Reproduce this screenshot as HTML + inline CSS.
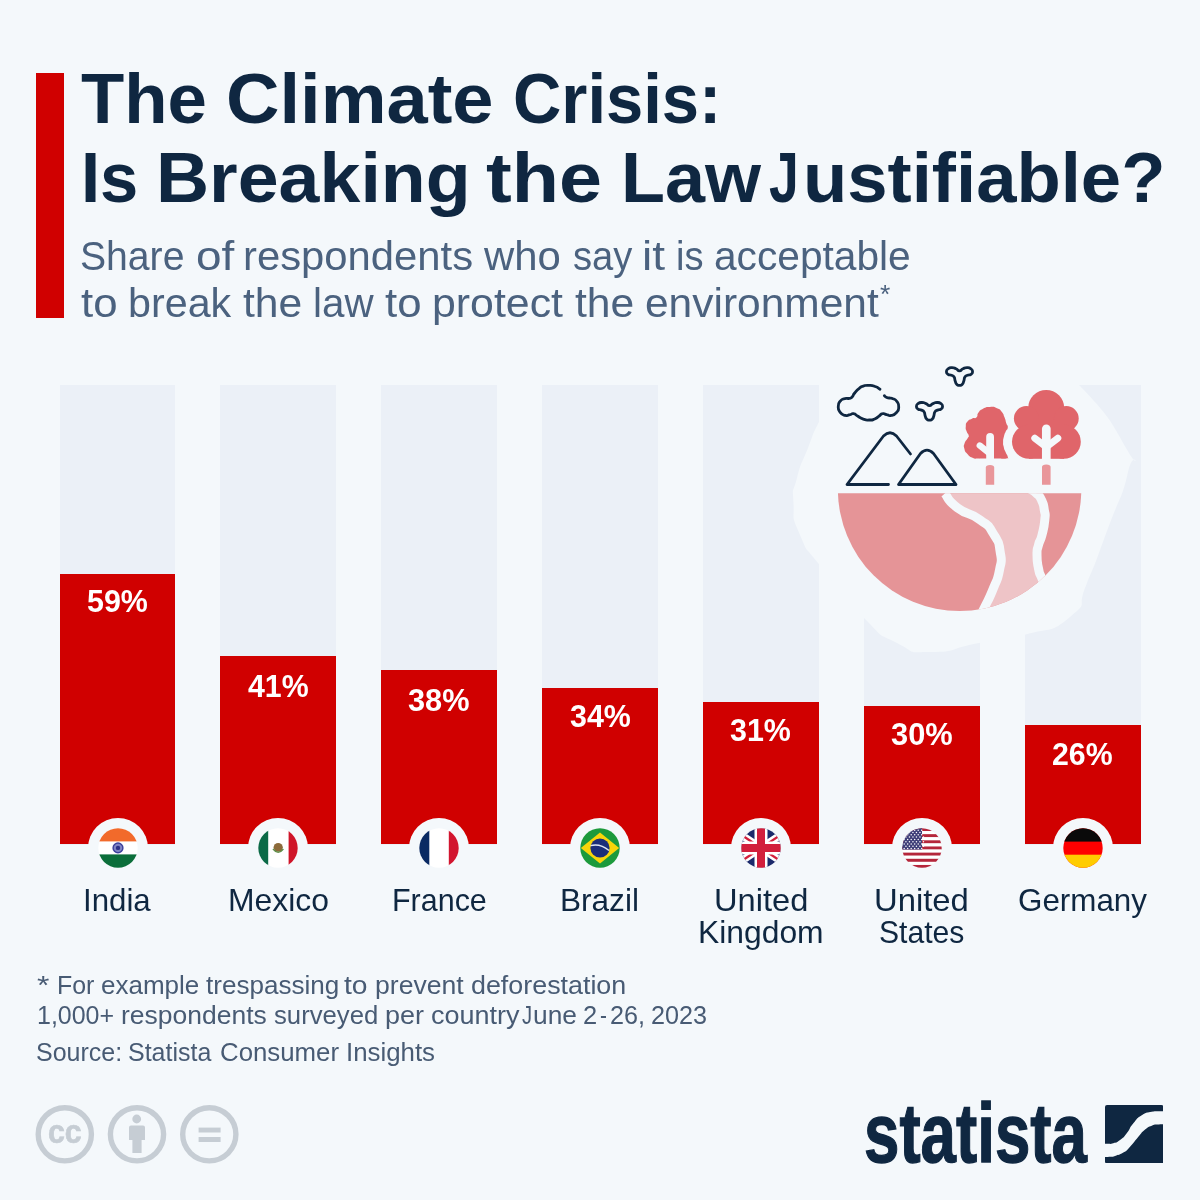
<!DOCTYPE html><html lang="en"><head><meta charset="utf-8"><title>The Climate Crisis: Is Breaking the Law Justifiable?</title><style>
html,body{margin:0;padding:0;background:#f4f8fb;overflow:hidden;}
#page{position:relative;width:1200px;height:1200px;overflow:hidden;background:#f4f8fb;font-family:'Liberation Sans',sans-serif;}
.t{position:absolute;white-space:pre;line-height:1;transform-origin:0 0;margin:0;font-weight:normal;}
.accent{position:absolute;left:36px;top:73px;width:28px;height:244.5px;background:#d00000;}
.title .t{color:#0f2741;font-weight:bold;}
.sub .t{color:#4b627f;}
.col{position:absolute;top:385px;width:115.9px;height:459.5px;background:#ebf0f7;}
.bar{position:absolute;width:115.9px;background:#d00000;}
.pct .t{color:#fff;font-weight:bold;}
.halo{position:absolute;width:60px;height:60px;border-radius:50%;background:#f4f8fb;top:818px;}
.flag{position:absolute;top:828.2px;}
.lab .t{color:#0f2741;}
.foot .t{color:#485b74;}
.foot .t.logo{color:#0f2741;}
.foot .t.cc{color:#c6cdd4;}
.illus{position:absolute;left:0;top:0;}
.ccs{position:absolute;left:0;top:1090px;}
.cc{color:#c6cdd4;font-weight:bold !important;-webkit-text-stroke:0.7px #c6cdd4;}
.logo{color:#0f2741;font-weight:bold !important;-webkit-text-stroke:1.3px #0f2741;}
.mark{position:absolute;left:1105px;top:1105px;}
</style></head><body><div id="page">
<div class="accent"></div>
<header class="title"><div class="ln"><span class="t h1" style="left:80.80px;top:63.30px;font-size:71.3px;transform:scaleX(0.9934)">The </span><span class="t h1" style="left:225.97px;top:63.30px;font-size:71.3px;transform:scaleX(1.0389)">Climate </span><span class="t h1" style="left:512.94px;top:63.30px;font-size:71.3px;transform:scaleX(0.9392)">Crisis:</span></div><div class="ln"><span class="t h1" style="left:81.01px;top:142.40px;font-size:71.3px;transform:scaleX(0.9637)">Is </span><span class="t h1" style="left:156.42px;top:142.40px;font-size:71.3px;transform:scaleX(1.0313)">Breaking </span><span class="t h1" style="left:485.70px;top:142.40px;font-size:71.3px;transform:scaleX(1.0840)">the </span><span class="t h1" style="left:620.70px;top:142.40px;font-size:71.3px;transform:scaleX(1.0094)">Law </span><span class="t h1" style="left:769.42px;top:142.40px;font-size:71.3px;transform:scaleX(0.7500)">J</span><span class="t h1" style="left:802.75px;top:142.40px;font-size:71.3px;transform:scaleX(1.0166)">ustifiable?</span></div></header>
<div class="sub"><div class="ln"><span class="t " style="left:80.48px;top:235.70px;font-size:40.1px;transform:scaleX(0.9762)">Share </span><span class="t " style="left:195.73px;top:235.70px;font-size:40.1px;transform:scaleX(1.1456)">of </span><span class="t " style="left:242.70px;top:235.70px;font-size:40.1px;transform:scaleX(1.0430)">respondents </span><span class="t " style="left:483.95px;top:235.70px;font-size:40.1px;transform:scaleX(1.0447)">who </span><span class="t " style="left:572.67px;top:235.70px;font-size:40.1px;transform:scaleX(0.9519)">say </span><span class="t " style="left:641.85px;top:235.70px;font-size:40.1px;transform:scaleX(1.1479)">it </span><span class="t " style="left:676.38px;top:235.70px;font-size:40.1px;transform:scaleX(0.9512)">is </span><span class="t " style="left:714.39px;top:235.70px;font-size:40.1px;transform:scaleX(1.0144)">acceptable</span></div><div class="ln"><span class="t " style="left:80.80px;top:283.00px;font-size:40.1px;transform:scaleX(1.0914)">to </span><span class="t " style="left:128.30px;top:283.00px;font-size:40.1px;transform:scaleX(1.0296)">break </span><span class="t " style="left:242.77px;top:283.00px;font-size:40.1px;transform:scaleX(1.0623)">the </span><span class="t " style="left:312.76px;top:283.00px;font-size:40.1px;transform:scaleX(1.0060)">law </span><span class="t " style="left:384.92px;top:283.00px;font-size:40.1px;transform:scaleX(1.0914)">to </span><span class="t " style="left:432.32px;top:283.00px;font-size:40.1px;transform:scaleX(1.0688)">protect </span><span class="t " style="left:574.76px;top:283.00px;font-size:40.1px;transform:scaleX(1.0623)">the </span><span class="t " style="left:644.71px;top:283.00px;font-size:40.1px;transform:scaleX(1.0597)">environment</span></div><div class="ln"><span class="t " style="left:880.08px;top:282.20px;font-size:25px;transform:scaleX(1.0556)">*</span></div></div>
<div class="cols"><div class="col" style="left:59.6px"></div><div class="col" style="left:220.2px"></div><div class="col" style="left:381.1px"></div><div class="col" style="left:542px"></div><div class="col" style="left:703px"></div><div class="col" style="left:863.8px"></div><div class="col" style="left:1025px"></div></div>
<svg class="illus" width="1200" height="1200" viewBox="0 0 1200 1200">
<path d="M840.0,385.0 C860.0,363.7 840.0,369.0 880.0,356.0 C920.0,343.0 906.7,345.3 960.0,346.0 C1013.3,346.7 1000.0,344.7 1040.0,358.0 C1080.0,371.3 1051.3,356.0 1080.0,386.0 C1108.7,416.0 1110.0,419.3 1126.0,448.0 C1142.0,476.7 1134.3,444.3 1128.0,472.0 C1121.7,499.7 1120.7,494.0 1107.0,531.0 C1093.3,568.0 1099.3,554.3 1087.0,583.0 C1074.7,611.7 1091.0,599.7 1070.0,617.0 C1049.0,634.3 1054.3,626.3 1024.0,635.0 C993.7,643.7 1010.0,637.3 979.0,643.0 C948.0,648.7 958.3,652.0 931.0,652.0 C903.7,652.0 919.7,654.7 897.0,643.0 C874.3,631.3 888.0,642.0 863.0,617.0 C838.0,592.0 843.0,595.3 822.0,568.0 C801.0,540.7 809.5,556.7 800.0,535.0 C790.5,513.3 794.5,522.0 793.5,503.0 C792.5,484.0 792.2,496.3 797.0,478.0 C801.8,459.7 800.3,467.3 808.0,448.0 C815.7,428.7 809.3,441.0 820.0,420.0 C830.7,399.0 820.0,406.3 840.0,385.0Z" fill="#f4f8fb"/>
<defs><clipPath id="half"><rect x="800" y="493.3" width="320" height="140"/></clipPath><clipPath id="disc"><circle cx="959.6" cy="489.3" r="121.7"/></clipPath></defs>
<g clip-path="url(#half)"><circle cx="959.6" cy="489.3" r="121.7" fill="#e59497"/>
<g clip-path="url(#disc)"><path d="M944.8,493.5 C949.0,498.2 945.8,499.0 957.5,507.8 C969.2,516.5 968.0,511.0 980.0,519.8 C992.0,528.5 986.8,523.2 993.5,534.0 C1000.2,544.8 998.2,540.0 1000.2,552.0 C1002.2,564.0 1001.8,558.0 999.5,570.0 C997.2,582.0 998.5,575.5 993.5,588.0 C988.5,600.5 989.0,598.2 984.5,607.5 C980.0,616.8 981.5,613.2 980.0,616.0 L1046.0,588.0 C1044.5,584.5 1044.0,584.0 1041.5,577.5 C1039.0,571.0 1040.0,576.0 1038.5,568.5 C1037.0,561.0 1037.0,562.8 1037.0,555.0 C1037.0,547.2 1036.8,551.7 1038.5,545.0 C1040.2,538.3 1039.9,543.3 1042.0,535.0 C1044.1,526.7 1044.0,528.3 1044.8,520.0 C1045.6,511.7 1045.4,516.7 1044.3,510.0 C1043.2,503.3 1044.1,505.5 1041.5,500.0 C1038.9,494.5 1040.3,497.2 1036.5,493.5 C1032.7,489.8 1032.2,490.5 1030.0,489.0Z" fill="#eec4c7"/>
<path d="M944.8,493.5 C949.0,498.2 945.8,499.0 957.5,507.8 C969.2,516.5 968.0,511.0 980.0,519.8 C992.0,528.5 986.8,523.2 993.5,534.0 C1000.2,544.8 998.2,540.0 1000.2,552.0 C1002.2,564.0 1001.8,558.0 999.5,570.0 C997.2,582.0 998.5,575.5 993.5,588.0 C988.5,600.5 989.0,598.2 984.5,607.5 C980.0,616.8 981.5,613.2 980.0,616.0" fill="none" stroke="#f4f8fb" stroke-width="9"/><path d="M1030.0,489.0 C1032.2,490.5 1032.7,489.8 1036.5,493.5 C1040.3,497.2 1038.9,494.5 1041.5,500.0 C1044.1,505.5 1043.2,503.3 1044.3,510.0 C1045.4,516.7 1045.6,511.7 1044.8,520.0 C1044.0,528.3 1044.1,526.7 1042.0,535.0 C1039.9,543.3 1040.2,538.3 1038.5,545.0 C1036.8,551.7 1037.0,547.2 1037.0,555.0 C1037.0,562.8 1037.0,561.0 1038.5,568.5 C1040.0,576.0 1039.0,571.0 1041.5,577.5 C1044.0,584.0 1044.5,584.5 1046.0,588.0" fill="none" stroke="#f4f8fb" stroke-width="9"/></g></g>
<g fill="none" stroke="#0f2741" stroke-width="2.8" stroke-linecap="round" stroke-linejoin="round">
<path d="M880.0,389.3 C878.4,388.4 879.1,387.8 875.3,386.5 C871.6,385.1 872.7,385.4 868.7,385.3 C864.7,385.2 866.4,385.2 863.3,386.2 C860.2,387.2 862.2,386.1 859.3,388.3 C856.4,390.6 857.0,390.2 854.7,393.0 C852.3,395.8 854.1,394.9 852.3,396.7 C850.6,398.4 851.9,397.7 849.3,398.3 C846.8,399.0 847.6,397.8 844.7,398.7 C841.7,399.5 842.6,398.3 840.5,400.9 C838.4,403.4 838.4,402.5 838.3,406.3 C838.2,410.2 837.9,409.3 840.2,412.3 C842.5,415.3 842.1,414.6 845.3,415.3 C848.6,416.1 847.2,415.2 850.0,414.7 C852.8,414.1 851.0,413.1 853.7,413.7 C856.3,414.2 854.8,414.5 858.0,416.3 C861.2,418.2 859.6,417.9 863.3,419.1 C867.1,420.4 865.6,420.0 869.3,420.0 C873.1,420.0 871.6,420.2 874.7,419.0 C877.8,417.8 876.0,418.1 878.7,416.3 C881.3,414.6 880.0,414.2 882.7,413.7 C885.3,413.1 883.8,414.1 886.7,414.7 C889.6,415.2 888.0,416.1 891.3,415.3 C894.6,414.6 894.1,415.2 896.5,412.5 C899.0,409.7 898.6,410.6 898.7,407.0 C898.8,403.4 898.8,404.3 896.9,401.5 C895.0,398.8 895.5,399.8 893.0,398.7 C890.5,397.5 891.6,398.4 889.3,398.0 C887.1,397.6 888.0,398.1 886.3,397.3 C884.7,396.6 885.0,396.2 884.3,395.7"/>
<path d="M929.5,405.6 C927.2,405.6 928.5,404.6 926.0,403.6 C923.5,402.6 924.7,402.5 922.0,402.5 C919.3,402.5 919.8,402.3 918.0,403.6 C916.2,404.9 916.5,404.7 916.5,406.5 C916.5,408.3 916.3,407.9 918.0,409.1 C919.7,410.3 919.5,409.2 921.5,410.1 C923.5,411.0 922.9,410.0 924.1,411.9 C925.3,413.8 924.3,413.5 925.2,415.9 C926.1,418.3 925.3,417.7 926.7,419.1 C928.1,420.5 927.6,420.1 929.5,420.1 C931.4,420.1 930.9,420.5 932.3,419.1 C933.7,417.7 932.9,418.3 933.8,415.9 C934.7,413.5 933.7,413.8 934.9,411.9 C936.1,410.0 935.5,411.0 937.5,410.1 C939.5,409.2 939.3,410.3 941.0,409.1 C942.7,407.9 942.5,408.3 942.5,406.5 C942.5,404.7 942.8,404.9 941.0,403.6 C939.2,402.3 939.7,402.5 937.0,402.5 C934.3,402.5 935.5,402.6 933.0,403.6 C930.5,404.6 931.8,405.6 929.5,405.6Z"/>
<path d="M959.5,370.8 C957.2,370.8 958.5,369.8 956.0,368.8 C953.5,367.8 954.7,367.7 952.0,367.7 C949.3,367.7 949.8,367.5 948.0,368.8 C946.2,370.1 946.5,369.9 946.5,371.7 C946.5,373.5 946.3,373.1 948.0,374.3 C949.7,375.5 949.5,374.4 951.5,375.3 C953.5,376.2 952.9,375.2 954.1,377.1 C955.3,379.0 954.3,378.7 955.2,381.1 C956.1,383.5 955.3,382.9 956.7,384.3 C958.1,385.7 957.6,385.3 959.5,385.3 C961.4,385.3 960.9,385.7 962.3,384.3 C963.7,382.9 962.9,383.5 963.8,381.1 C964.7,378.7 963.7,379.0 964.9,377.1 C966.1,375.2 965.5,376.2 967.5,375.3 C969.5,374.4 969.3,375.5 971.0,374.3 C972.7,373.1 972.5,373.5 972.5,371.7 C972.5,369.9 972.8,370.1 971.0,368.8 C969.2,367.5 969.7,367.7 967.0,367.7 C964.3,367.7 965.5,367.8 963.0,368.8 C960.5,369.8 961.8,370.8 959.5,370.8Z"/>
<path d="M888.5,484.5 L847,484.5 L883.5,436 Q890,429.6 896.5,436 L910.5,454"/>
<path d="M920.5,453.5 Q927,446.9 933.5,453.5 L956,484.5 L898.5,484.5 Z"/>
</g>
<g fill="#e0656a">
<path d="M990.0,407.0 C994.7,406.8 993.1,406.6 997.0,408.2 C1000.9,409.7 999.1,408.6 1001.7,411.7 C1004.2,414.8 1003.0,413.6 1004.6,417.5 C1006.1,421.4 1005.3,420.0 1006.3,423.3 C1007.4,426.6 1008.0,424.7 1007.8,427.4 C1007.6,430.1 1007.0,428.6 1005.7,431.5 C1004.5,434.4 1004.9,432.7 1004.0,436.2 C1003.1,439.7 1003.2,438.5 1003.1,442.0 C1003.0,445.5 1003.0,443.6 1003.7,446.7 C1004.4,449.8 1003.8,447.9 1005.2,451.3 C1006.5,454.7 1007.4,454.5 1007.8,456.9 C1008.2,459.3 1010.3,457.9 1006.3,458.5 C1002.3,459.1 1003.6,458.6 995.8,458.6 C988.1,458.7 988.8,458.6 983.0,458.6 C977.2,458.6 981.8,458.9 978.3,458.6 C974.8,458.3 976.2,459.4 972.5,457.7 C968.8,456.1 970.0,456.8 967.2,453.7 C964.5,450.6 965.2,451.9 964.3,448.4 C963.5,444.9 963.6,446.5 964.6,443.2 C965.7,439.9 966.2,441.0 967.5,438.5 C968.9,436.0 969.0,437.9 968.7,435.6 C968.4,433.2 967.6,434.6 966.7,431.5 C965.7,428.4 965.5,429.6 965.8,426.2 C966.1,422.9 965.5,424.1 967.5,421.6 C969.6,419.1 968.9,420.1 971.9,418.7 C974.9,417.2 974.4,419.2 976.6,417.2 C978.7,415.3 976.2,415.7 978.3,412.8 C980.5,410.0 979.1,410.7 983.0,408.7 C986.9,406.8 985.3,407.2 990.0,407.0Z"/>
</g>
<g fill="#f4f8fb" stroke="#f4f8fb" stroke-width="8"><circle cx="1046.2" cy="408" r="18"/><circle cx="1026.3" cy="418.5" r="12.4"/><circle cx="1066.3" cy="418.5" r="12.4"/><circle cx="1029" cy="441.8" r="17"/><circle cx="1063.8" cy="441.8" r="17"/><rect x="1029" y="420" width="35" height="38.8"/></g>
<g fill="#e0656a"><circle cx="1046.2" cy="408" r="18"/><circle cx="1026.3" cy="418.5" r="12.4"/><circle cx="1066.3" cy="418.5" r="12.4"/><circle cx="1029" cy="441.8" r="17"/><circle cx="1063.8" cy="441.8" r="17"/><rect x="1029" y="420" width="35" height="38.8"/></g>
<g fill="none" stroke="#f4f8fb" stroke-linecap="round">
<path d="M990.1,437 L990.1,462" stroke-width="7.8"/><path d="M979.8,445.6 L988.5,452.5" stroke-width="6.4"/>
<path d="M1046.3,428.8 L1046.3,462" stroke-width="8.7"/><path d="M1034.8,438.2 L1045,446" stroke-width="7"/><path d="M1057.8,438.2 L1047.6,446" stroke-width="7"/>
</g>
<g fill="#e9969a"><path d="M985.8,484.7 L985.8,467.5 Q985.8,465 990,465 Q994.2,465 994.2,467.5 L994.2,484.7Z"/><path d="M1042,484.7 L1042,467 Q1042,464.4 1046.3,464.4 Q1050.6,464.4 1050.6,467 L1050.6,484.7Z"/></g>
</svg>
<div class="bars">
<div class="bar" style="left:59.6px;top:573.69px;height:270.71px"></div>
<div class="bar" style="left:220.2px;top:656.11px;height:188.29px"></div>
<div class="bar" style="left:381.1px;top:669.85px;height:174.55px"></div>
<div class="bar" style="left:542px;top:688.16px;height:156.24px"></div>
<div class="bar" style="left:703px;top:701.90px;height:142.50px"></div>
<div class="bar" style="left:863.8px;top:706.48px;height:137.92px"></div>
<div class="bar" style="left:1025px;top:724.80px;height:119.60px"></div>
</div>
<div class="pct"><div class="ln"><span class="t " style="left:87.02px;top:585.75px;font-size:31px;transform:scaleX(0.9816)">59%</span></div><div class="ln"><span class="t " style="left:248.00px;top:670.75px;font-size:31px;transform:scaleX(0.9780)">41%</span></div><div class="ln"><span class="t " style="left:408.27px;top:684.50px;font-size:31px;transform:scaleX(0.9898)">38%</span></div><div class="ln"><span class="t " style="left:569.52px;top:700.75px;font-size:31px;transform:scaleX(0.9816)">34%</span></div><div class="ln"><span class="t " style="left:730.32px;top:714.80px;font-size:31px;transform:scaleX(0.9816)">31%</span></div><div class="ln"><span class="t " style="left:890.72px;top:719.20px;font-size:31px;transform:scaleX(0.9947)">30%</span></div><div class="ln"><span class="t " style="left:1051.85px;top:739.20px;font-size:31px;transform:scaleX(0.9763)">26%</span></div></div>
<div class="flags">
<div class="halo" style="left:87.6px"></div>
<svg class="flag" style="left:97.6px" width="40" height="40" viewBox="0 0 40 40"><defs><clipPath id="fc0"><circle cx="20" cy="20" r="19.7"/></clipPath></defs><g clip-path="url(#fc0)"><rect width="40" height="40" fill="#fff"/><rect width="40" height="13.4" fill="#f26a2b"/><rect y="26.4" width="40" height="13.6" fill="#0b6e3a"/><circle cx="20" cy="19.9" r="5.6" fill="#3b3f9a"/><circle cx="20" cy="19.9" r="4.2" fill="#7f83c4"/><circle cx="20" cy="19.9" r="2.2" fill="#2b2f86"/></g></svg>
<div class="halo" style="left:248.4px"></div>
<svg class="flag" style="left:258.4px" width="40" height="40" viewBox="0 0 40 40"><defs><clipPath id="fc1"><circle cx="20" cy="20" r="19.7"/></clipPath></defs><g clip-path="url(#fc1)"><rect width="40" height="40" fill="#fff"/><rect width="10.2" height="40" fill="#0b6a47"/><rect x="30.6" width="10" height="40" fill="#cf1529"/><ellipse cx="20.2" cy="19.3" rx="4.6" ry="4.4" fill="#8c6a3a"/><path d="M15,21 Q20.2,27.5 25.4,21" fill="none" stroke="#5f8f4a" stroke-width="1.4"/></g></svg>
<div class="halo" style="left:409.1px"></div>
<svg class="flag" style="left:419.1px" width="40" height="40" viewBox="0 0 40 40"><defs><clipPath id="fc2"><circle cx="20" cy="20" r="19.7"/></clipPath></defs><g clip-path="url(#fc2)"><rect width="40" height="40" fill="#fff"/><rect width="10.3" height="40" fill="#0a2a63"/><rect x="29.8" width="11" height="40" fill="#d2152f"/></g></svg>
<div class="halo" style="left:570.0px"></div>
<svg class="flag" style="left:580.0px" width="40" height="40" viewBox="0 0 40 40"><defs><clipPath id="fc3"><circle cx="20" cy="20" r="19.7"/></clipPath></defs><g clip-path="url(#fc3)"><rect width="40" height="40" fill="#1c9a3c"/><path d="M0.8,20 L20,4.6 L39.2,20 L20,35.4Z" fill="#f8d50a"/><circle cx="20" cy="20" r="9.6" fill="#1b2e7a"/><path d="M10.6,17.6 Q20,15 29,22.5" fill="none" stroke="#dfe6f2" stroke-width="1.5"/></g></svg>
<div class="halo" style="left:731.0px"></div>
<svg class="flag" style="left:741.0px" width="40" height="40" viewBox="0 0 40 40"><defs><clipPath id="fc4"><circle cx="20" cy="20" r="19.7"/></clipPath></defs><g clip-path="url(#fc4)"><rect width="40" height="40" fill="#1b2a6b"/><path d="M-10,0 L50,40 M50,0 L-10,40" stroke="#fff" stroke-width="7.5"/><path d="M-10,0 L50,40 M50,0 L-10,40" stroke="#d21f3c" stroke-width="2.4"/><path d="M20,0 V40 M0,20 H40" stroke="#fff" stroke-width="13"/><path d="M20,0 V40 M0,20 H40" stroke="#d21f3c" stroke-width="8"/></g></svg>
<div class="halo" style="left:891.7px"></div>
<svg class="flag" style="left:901.7px" width="40" height="40" viewBox="0 0 40 40"><defs><clipPath id="fc5"><circle cx="20" cy="20" r="19.7"/></clipPath></defs><g clip-path="url(#fc5)"><rect y="0.00" width="40" height="3.08" fill="#b5263b"/><rect y="3.08" width="40" height="3.08" fill="#fff"/><rect y="6.16" width="40" height="3.08" fill="#b5263b"/><rect y="9.24" width="40" height="3.08" fill="#fff"/><rect y="12.32" width="40" height="3.08" fill="#b5263b"/><rect y="15.40" width="40" height="3.08" fill="#fff"/><rect y="18.48" width="40" height="3.08" fill="#b5263b"/><rect y="21.56" width="40" height="3.08" fill="#fff"/><rect y="24.64" width="40" height="3.08" fill="#b5263b"/><rect y="27.72" width="40" height="3.08" fill="#fff"/><rect y="30.80" width="40" height="3.08" fill="#b5263b"/><rect y="33.88" width="40" height="3.08" fill="#fff"/><rect y="36.96" width="40" height="3.08" fill="#b5263b"/><rect width="20" height="21.56" fill="#3f3e78"/><circle cx="2.20" cy="2.20" r="0.75" fill="#fff"/><circle cx="5.70" cy="2.20" r="0.75" fill="#fff"/><circle cx="9.20" cy="2.20" r="0.75" fill="#fff"/><circle cx="12.70" cy="2.20" r="0.75" fill="#fff"/><circle cx="16.20" cy="2.20" r="0.75" fill="#fff"/><circle cx="19.70" cy="2.20" r="0.75" fill="#fff"/><circle cx="3.95" cy="4.50" r="0.75" fill="#fff"/><circle cx="7.45" cy="4.50" r="0.75" fill="#fff"/><circle cx="10.95" cy="4.50" r="0.75" fill="#fff"/><circle cx="14.45" cy="4.50" r="0.75" fill="#fff"/><circle cx="17.95" cy="4.50" r="0.75" fill="#fff"/><circle cx="21.45" cy="4.50" r="0.75" fill="#fff"/><circle cx="2.20" cy="6.80" r="0.75" fill="#fff"/><circle cx="5.70" cy="6.80" r="0.75" fill="#fff"/><circle cx="9.20" cy="6.80" r="0.75" fill="#fff"/><circle cx="12.70" cy="6.80" r="0.75" fill="#fff"/><circle cx="16.20" cy="6.80" r="0.75" fill="#fff"/><circle cx="19.70" cy="6.80" r="0.75" fill="#fff"/><circle cx="3.95" cy="9.10" r="0.75" fill="#fff"/><circle cx="7.45" cy="9.10" r="0.75" fill="#fff"/><circle cx="10.95" cy="9.10" r="0.75" fill="#fff"/><circle cx="14.45" cy="9.10" r="0.75" fill="#fff"/><circle cx="17.95" cy="9.10" r="0.75" fill="#fff"/><circle cx="21.45" cy="9.10" r="0.75" fill="#fff"/><circle cx="2.20" cy="11.40" r="0.75" fill="#fff"/><circle cx="5.70" cy="11.40" r="0.75" fill="#fff"/><circle cx="9.20" cy="11.40" r="0.75" fill="#fff"/><circle cx="12.70" cy="11.40" r="0.75" fill="#fff"/><circle cx="16.20" cy="11.40" r="0.75" fill="#fff"/><circle cx="19.70" cy="11.40" r="0.75" fill="#fff"/><circle cx="3.95" cy="13.70" r="0.75" fill="#fff"/><circle cx="7.45" cy="13.70" r="0.75" fill="#fff"/><circle cx="10.95" cy="13.70" r="0.75" fill="#fff"/><circle cx="14.45" cy="13.70" r="0.75" fill="#fff"/><circle cx="17.95" cy="13.70" r="0.75" fill="#fff"/><circle cx="21.45" cy="13.70" r="0.75" fill="#fff"/><circle cx="2.20" cy="16.00" r="0.75" fill="#fff"/><circle cx="5.70" cy="16.00" r="0.75" fill="#fff"/><circle cx="9.20" cy="16.00" r="0.75" fill="#fff"/><circle cx="12.70" cy="16.00" r="0.75" fill="#fff"/><circle cx="16.20" cy="16.00" r="0.75" fill="#fff"/><circle cx="19.70" cy="16.00" r="0.75" fill="#fff"/><circle cx="3.95" cy="18.30" r="0.75" fill="#fff"/><circle cx="7.45" cy="18.30" r="0.75" fill="#fff"/><circle cx="10.95" cy="18.30" r="0.75" fill="#fff"/><circle cx="14.45" cy="18.30" r="0.75" fill="#fff"/><circle cx="17.95" cy="18.30" r="0.75" fill="#fff"/><circle cx="21.45" cy="18.30" r="0.75" fill="#fff"/><circle cx="2.20" cy="20.60" r="0.75" fill="#fff"/><circle cx="5.70" cy="20.60" r="0.75" fill="#fff"/><circle cx="9.20" cy="20.60" r="0.75" fill="#fff"/><circle cx="12.70" cy="20.60" r="0.75" fill="#fff"/><circle cx="16.20" cy="20.60" r="0.75" fill="#fff"/><circle cx="19.70" cy="20.60" r="0.75" fill="#fff"/></g></svg>
<div class="halo" style="left:1052.6px"></div>
<svg class="flag" style="left:1062.6px" width="40" height="40" viewBox="0 0 40 40"><defs><clipPath id="fc6"><circle cx="20" cy="20" r="19.7"/></clipPath></defs><g clip-path="url(#fc6)"><rect width="40" height="40" fill="#fe0000"/><rect width="40" height="13.6" fill="#0a0a0a"/><rect y="26.7" width="40" height="13.4" fill="#ffcc00"/></g></svg>
</div>
<div class="lab"><div class="ln"><span class="t " style="left:82.56px;top:884.80px;font-size:31.1px;transform:scaleX(1.0045)">India</span></div><div class="ln"><span class="t " style="left:227.51px;top:884.80px;font-size:31.1px;transform:scaleX(1.0251)">Mexico</span></div><div class="ln"><span class="t " style="left:391.62px;top:884.80px;font-size:31.1px;transform:scaleX(0.9796)">France</span></div><div class="ln"><span class="t " style="left:560.33px;top:884.80px;font-size:31.1px;transform:scaleX(1.0152)">Brazil</span></div><div class="ln"><span class="t " style="left:713.96px;top:884.80px;font-size:31.1px;transform:scaleX(1.0498)">United</span></div><div class="ln"><span class="t " style="left:697.51px;top:916.50px;font-size:31.1px;transform:scaleX(1.0235)">Kingdom</span></div><div class="ln"><span class="t " style="left:874.45px;top:884.80px;font-size:31.1px;transform:scaleX(1.0556)">United</span></div><div class="ln"><span class="t " style="left:879.06px;top:916.50px;font-size:31.1px;transform:scaleX(0.9684)">States</span></div><div class="ln"><span class="t " style="left:1017.53px;top:884.80px;font-size:31.1px;transform:scaleX(1.0084)">Germany</span></div></div>
<footer class="foot"><div class="ln"><span class="t " style="left:37.00px;top:972.75px;font-size:25.3px;transform:scaleX(1.2586)">* </span><span class="t " style="left:56.87px;top:972.75px;font-size:25.3px;transform:scaleX(0.9858)">For </span><span class="t " style="left:101.07px;top:972.75px;font-size:25.3px;transform:scaleX(1.0285)">example </span><span class="t " style="left:206.02px;top:972.75px;font-size:25.3px;transform:scaleX(1.0301)">trespassing </span><span class="t " style="left:344.49px;top:972.75px;font-size:25.3px;transform:scaleX(1.1166)">to </span><span class="t " style="left:375.07px;top:972.75px;font-size:25.3px;transform:scaleX(1.0515)">prevent </span><span class="t " style="left:470.91px;top:972.75px;font-size:25.3px;transform:scaleX(1.0614)">deforestation</span></div><div class="ln"><span class="t " style="left:36.87px;top:1002.75px;font-size:25.3px;transform:scaleX(0.9869)">1,000+ </span><span class="t " style="left:120.86px;top:1002.75px;font-size:25.3px;transform:scaleX(1.0472)">respondents </span><span class="t " style="left:273.74px;top:1002.75px;font-size:25.3px;transform:scaleX(1.0154)">surveyed </span><span class="t " style="left:385.23px;top:1002.75px;font-size:25.3px;transform:scaleX(1.0651)">per </span><span class="t " style="left:430.93px;top:1002.75px;font-size:25.3px;transform:scaleX(1.0669)">country </span><span class="t " style="left:521.59px;top:1002.75px;font-size:25.3px;transform:scaleX(0.8000)">J</span><span class="t " style="left:532.78px;top:1002.75px;font-size:25.3px;transform:scaleX(1.0410)">une </span><span class="t " style="left:583.31px;top:1002.75px;font-size:25.3px;transform:scaleX(1.0070)">2</span></div><div class="ln"><span class="t " style="left:599.89px;top:1002.75px;font-size:25.3px;transform:scaleX(0.8254)">-</span></div><div class="ln"><span class="t " style="left:610.01px;top:1002.75px;font-size:25.3px;transform:scaleX(0.9950)">26, </span><span class="t " style="left:650.95px;top:1002.75px;font-size:25.3px;transform:scaleX(0.9952)">2023</span></div><div class="ln"><span class="t " style="left:35.91px;top:1040.25px;font-size:25.3px;transform:scaleX(0.9880)">Source: </span><span class="t " style="left:128.15px;top:1040.25px;font-size:25.3px;transform:scaleX(0.9870)">Statista </span><span class="t " style="left:220.13px;top:1040.25px;font-size:25.3px;transform:scaleX(1.0202)">Consumer </span><span class="t " style="left:345.60px;top:1040.25px;font-size:25.3px;transform:scaleX(1.0210)">Insights</span></div>
<svg class="ccs" width="260" height="90" viewBox="20 1090 260 90" style="left:20px"><g fill="none" stroke="#c6cdd4" stroke-width="5.4"><circle cx="64.8" cy="1134.3" r="26.6"/><circle cx="137" cy="1134.3" r="26.6"/><circle cx="209.3" cy="1134.3" r="26.6"/></g><g fill="#c6cdd4"><circle cx="136.7" cy="1119" r="4.4"/><path d="M129,1127.6 Q129,1125.6 131,1125.6 L143,1125.6 Q145,1125.6 145,1127.6 L145,1140 L141.6,1140 L141.6,1153 L132.4,1153 L132.4,1140 L129,1140Z"/><rect x="198.6" y="1127.6" width="22" height="4.9"/><rect x="198.6" y="1137" width="22" height="5"/></g></svg>
<div class="ln"><span class="t cc" style="left:47.65px;top:1115.20px;font-size:33px;transform:scaleX(0.9181)">cc</span></div>
<div class="ln"><span class="t logo" style="left:863.61px;top:1091.00px;font-size:84px;transform:scaleX(0.7581)">statista</span></div>
<svg class="mark" width="58.4" height="58.4" viewBox="0 0 58.3 58.3"><path d="M2,0 H56.3 Q58.3,0 58.3,2 V6.25 C56.2,6.3 55.9,6.1 52.0,6.3 C48.1,6.5 51.8,5.5 46.7,6.8 C41.6,8.1 42.8,6.4 36.7,10.2 C30.6,14.0 33.3,12.3 28.3,18.3 C23.3,24.3 26.1,22.7 21.7,28.3 C17.3,33.9 19.5,31.7 15.0,35.0 C10.5,38.3 12.3,37.0 8.3,38.2 C4.3,39.4 5.8,38.5 3.0,38.7 C0.2,38.9 1.0,38.7 0.0,38.8 V2 Q0,0 2,0Z M0.0,52.0 C1.7,51.9 1.7,52.1 5.0,51.7 C8.3,51.3 5.6,52.2 10.0,50.8 C14.4,49.4 13.3,50.5 18.3,47.5 C23.3,44.5 20.0,47.0 25.0,41.7 C30.0,36.4 28.3,37.5 33.3,31.7 C38.3,25.9 35.5,28.1 40.0,24.4 C44.5,20.7 42.4,22.3 46.7,20.6 C51.0,18.9 49.1,19.9 53.0,19.4 C56.9,18.9 56.5,19.3 58.3,19.2 V56.3 Q58.3,58.3 56.3,58.3 H2 Q0,58.3 0,56.3Z" fill="#0f2741"/></svg>
</footer>
</div></body></html>
